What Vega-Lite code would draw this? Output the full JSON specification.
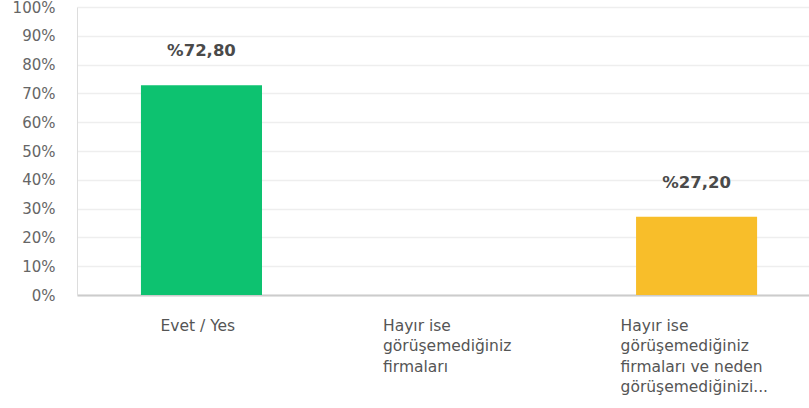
{
  "$schema": "https://vega.github.io/schema/vega-lite/v6.json",
  "autosize": "none",
  "width": 732,
  "height": 288,
  "padding": {"left": 77, "top": 7, "right": 0, "bottom": 113},
  "background": "white",
  "data": {
    "values": [
      {"cevap": "Evet / Yes", "oran": 72.8, "etiket": "%72,80"},
      {"cevap": "Hayır ise görüşemediğiniz firmaları", "oran": 0, "etiket": ""},
      {"cevap": "Hayır ise görüşemediğiniz firmaları ve neden görüşemediğinizi...", "oran": 27.2, "etiket": "%27,20"}
    ]
  },
  "encoding": {
    "x": {
      "field": "cevap",
      "type": "nominal",
      "sort": null,
      "scale": {"paddingInner": 0.511, "paddingOuter": 0.234, "align": 0.552},
      "axis": {
        "title": null,
        "labelAngle": 0,
        "labelAlign": "left",
        "labelBaseline": "top",
        "labelOffset": {"condition": [{"test": "datum.value == 'Evet / Yes'", "value": -41}, {"test": "datum.value == 'Hayır ise görüşemediğiniz firmaları'", "value": -66}], "value": -76},
        "labelExpr": "datum.value == 'Evet / Yes' ? 'Evet / Yes' : (datum.value == 'Hayır ise görüşemediğiniz firmaları' ? ['Hayır ise', 'görüşemediğiniz', 'firmaları'] : ['Hayır ise', 'görüşemediğiniz', 'firmaları ve neden', 'görüşemediğinizi...'])",
        "labelPadding": 23,
        "labelLineHeight": 20.5,
        "labelFont": "DejaVu Sans",
        "labelFontSize": 15.5,
        "labelColor": "#555555",
        "labelLimit": 300,
        "ticks": false,
        "domainColor": "#cccccc",
        "domainWidth": 2,
        "grid": false
      }
    },
    "y": {
      "field": "oran",
      "type": "quantitative",
      "scale": {"domain": [0, 100]},
      "axis": {
        "title": null,
        "values": [0, 10, 20, 30, 40, 50, 60, 70, 80, 90, 100],
        "labelExpr": "datum.value + '%'",
        "labelFont": "DejaVu Sans",
        "labelFontSize": 15,
        "labelColor": "#666666",
        "labelPadding": 22,
        "ticks": false,
        "domainColor": "#dddddd",
        "domainWidth": 1,
        "gridColor": "#eeeeee",
        "gridWidth": 1.5
      }
    }
  },
  "layer": [
    {
      "mark": {"type": "bar"},
      "encoding": {
        "color": {
          "field": "cevap",
          "type": "nominal",
          "sort": null,
          "legend": null,
          "scale": {"range": ["#0DC270", "#0DC270", "#F8BE2A"]}
        }
      }
    },
    {
      "mark": {"type": "text", "baseline": "bottom", "dy": -26, "font": "DejaVu Sans", "fontSize": 16.5, "fontWeight": "bold", "color": "#4a4a4a"},
      "encoding": {"text": {"field": "etiket"}}
    }
  ],
  "config": {"view": {"stroke": null}}
}
